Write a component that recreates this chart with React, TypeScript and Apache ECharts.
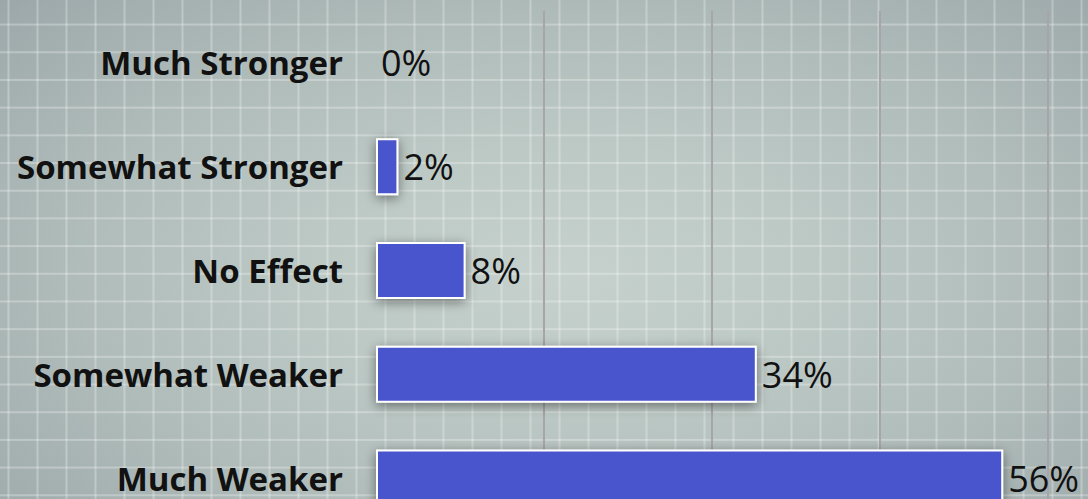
import React, { useEffect, useRef } from "react";
import * as echarts from "echarts";

const categories = ["Much Stronger", "Somewhat Stronger", "No Effect", "Somewhat Weaker", "Much Weaker"];
const values = [0, 2, 8, 34, 56];
const axisMin = 0;
const axisMax = 60;
const axisInterval = 15;

const FONT = "'Open Sans', 'DejaVu Sans', sans-serif";

export default function App() {
  const ref = useRef<HTMLDivElement>(null);
  useEffect(() => {
    if (!ref.current) return;
    const chart = echarts.init(ref.current, null, { renderer: "svg" });
    chart.setOption({
      animation: false,
      backgroundColor: "transparent",
      grid: { left: 376, right: 40, top: 11, bottom: 0, containLabel: false },
      xAxis: {
        type: "value",
        min: axisMin,
        max: axisMax,
        interval: axisInterval,
        axisLabel: { show: false },
        axisLine: { show: false },
        axisTick: { show: false },
        splitLine: {
          show: true,
          showMinLine: false,
          lineStyle: { color: "#a7a5aa", width: 2 },
        },
      },
      yAxis: {
        type: "category",
        inverse: true,
        data: categories,
        axisLine: { show: false },
        axisTick: { show: false },
        axisLabel: {
          fontFamily: FONT,
          fontSize: 33,
          fontWeight: 700,
          color: "#111",
          margin: 33,
        },
      },
      series: [
        {
          type: "bar",
          data: values.map((v) =>
            v === 0 ? { value: v, itemStyle: { borderWidth: 0, shadowBlur: 0, shadowColor: "transparent" } } : v
          ),
          barWidth: 57,
          itemStyle: {
            color: "#4a55cc",
            borderColor: "#ffffff",
            borderWidth: 2,
            shadowBlur: 12,
            shadowColor: "rgba(0,0,0,0.45)",
            shadowOffsetY: 3,
          },
          label: {
            show: true,
            position: "right",
            distance: 5,
            formatter: "{c}%",
            fontFamily: FONT,
            fontSize: 36,
            fontWeight: 400,
            color: "#111",
          },
        },
      ],
    });
    return () => chart.dispose();
  }, []);

  return (
    <div
      style={{
        position: "fixed",
        left: 0,
        top: 0,
        width: 1088,
        height: 499,
        overflow: "hidden",
        backgroundColor: "#b3bfbc",
        backgroundImage: [
          "linear-gradient(to right, rgba(255,255,255,0.27) 1.5px, transparent 1.5px)",
          "linear-gradient(to bottom, rgba(255,255,255,0.27) 1.5px, transparent 1.5px)",
          "radial-gradient(ellipse 75% 85% at 52% 55%, #c6d1cd 0%, #bdc9c5 30%, #b0bcba 60%, #a2aeae 85%, #97a4a6 100%)",
        ].join(", "),
        backgroundSize: "29px 27.7px, 29px 27.7px, 100% 100%",
        backgroundPosition: "7.5px 23.6px, 7.5px 23.6px, 0 0",
      }}
    >
      <div ref={ref} style={{ width: 1088, height: 530 }} />
    </div>
  );
}
